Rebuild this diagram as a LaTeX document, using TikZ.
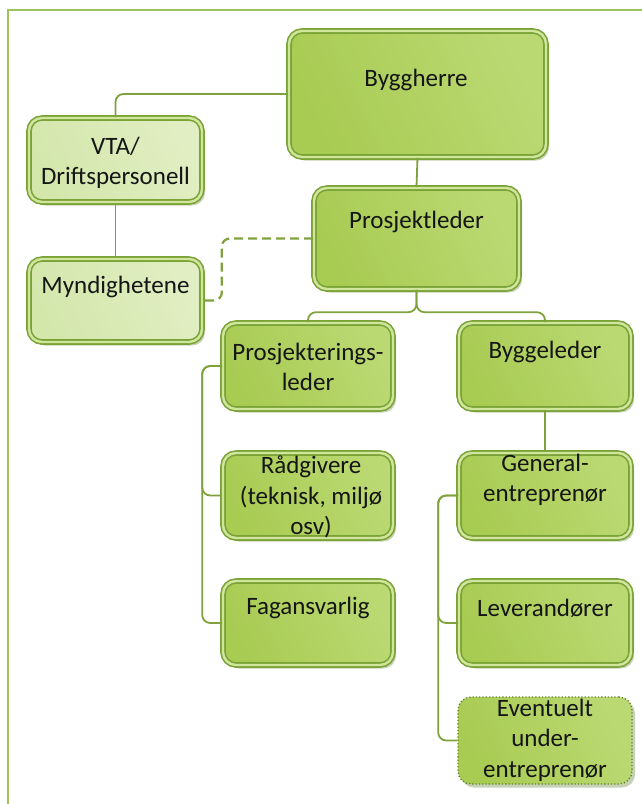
\documentclass[tikz,border=0pt]{standalone}
\usepackage{fontspec}
\setmainfont{Carlito}
\usetikzlibrary{shadows,calc}
\definecolor{edge}{HTML}{7AA236}
\definecolor{band}{HTML}{D0E69C}
\definecolor{fillA}{HTML}{A8CB52}
\definecolor{fillB}{HTML}{BBD973}
\definecolor{paleA}{HTML}{D3E7AB}
\definecolor{paleB}{HTML}{E1EEC3}
\definecolor{wire}{HTML}{7FA23E}
\definecolor{frameline}{HTML}{9CC45A}
\definecolor{ink}{HTML}{151515}
\definecolor{shade}{HTML}{B9C6A2}
\begin{document}
\begin{tikzpicture}[x=1pt,y=-1pt,
  base/.style={rectangle, rounded corners=13pt, inner sep=0pt,
    drop shadow={shadow xshift=3pt, shadow yshift=-3.5pt, fill=shade, opacity=0.8}},
  box/.style={base, draw=edge, double=band, double distance=2.4pt, line width=1.6pt,
    left color=fillA, right color=fillB, shading angle=115},
  palebox/.style={box, left color=paleA, right color=paleB, shading angle=115},
  dotbox/.style={base, draw=edge!80!black, dotted, line width=1.3pt,
    left color=fillA, right color=fillB, shading angle=115},
  txt/.style={font=\fontsize{25}{30.5}\selectfont, text=ink, align=center, inner sep=0pt},
  conn/.style={draw=wire, line width=1.8pt, rounded corners=8pt},
  dashconn/.style={conn, dashed, dash pattern=on 9pt off 5pt, line width=2.2pt}
]
\useasboundingbox (0,0) rectangle (642,804);
% outer frame
\draw[frameline, line width=2pt] (8,804) -- (8,10) -- (642,10);

% boxes
\node[box, minimum width=257pt, minimum height=126pt] (bh) at (417.5,94) {};
\node[palebox, minimum width=173pt, minimum height=84pt] (vta) at (115.5,160) {};
\node[palebox, minimum width=173pt, minimum height=83pt] (myn) at (115.5,300.5) {};
\node[box, minimum width=205pt, minimum height=101pt] (pl) at (416.5,238.5) {};
\node[box, minimum width=170pt, minimum height=86pt] (pkl) at (308,366) {};
\node[box, minimum width=172pt, minimum height=86pt] (bl) at (545,366) {};
\node[box, minimum width=170pt, minimum height=85pt] (rad) at (308,495.5) {};
\node[box, minimum width=170pt, minimum height=84pt] (fag) at (308,623) {};
\node[box, minimum width=172pt, minimum height=85pt] (ge) at (545,495.5) {};
\node[box, minimum width=172pt, minimum height=84pt] (lev) at (545,623) {};
\node[dotbox, minimum width=174pt, minimum height=87pt] (ev) at (545,740.5) {};

% labels
\node[txt] (bht) at (416,80) {Byggherre};
\node[txt] (vtat) at (115.5,163) {VTA/\\Driftspersonell};
\node[txt] (mynt) at (115.5,287) {Myndighetene};
\node[txt] (plt) at (416.5,222) {Prosjektleder};
\node[txt] (pklt) at (308,367) {Prosjekterings-\\leder};
\node[txt] (blt) at (545,352) {Byggeleder};
\node[txt] (radt) at (311,497) {Rådgivere\\(teknisk, miljø\\osv)};
\node[txt] (fagt) at (308,608) {Fagansvarlig};
\node[txt] (get) at (545,480) {General-\\entreprenør};
\node[txt] (levt) at (545,608) {Leverandører};
\node[txt] (evt) at (545,740) {Eventuelt\\under-\\entreprenør};

% connectors
\draw[conn] (bh.west) -| (vta.north);
\draw[conn] (vta.south) -- (myn.north);
\draw[conn] (bh.south) -- (pl.north);
\draw[dashconn] (pl.west) -| ([xshift=19pt]myn.east) -- (myn.east);
\draw[conn] (pl.south) |- ([yshift=10pt]pkl.north) -- (pkl.north);
\draw[conn] (pl.south) |- ([yshift=10pt]bl.north) -- (bl.north);
\draw[conn] (pkl.west) -- ++(-20,0) |- (rad.west);
\draw[conn] (pkl.west) -- ++(-20,0) |- (fag.west);
\draw[conn] (bl.south) -- (ge.north);
\draw[conn] (ge.west) -- ++(-20,0) |- (lev.west);
\draw[conn] (ge.west) -- ++(-20,0) |- (ev.west);
\end{tikzpicture}
\end{document}
